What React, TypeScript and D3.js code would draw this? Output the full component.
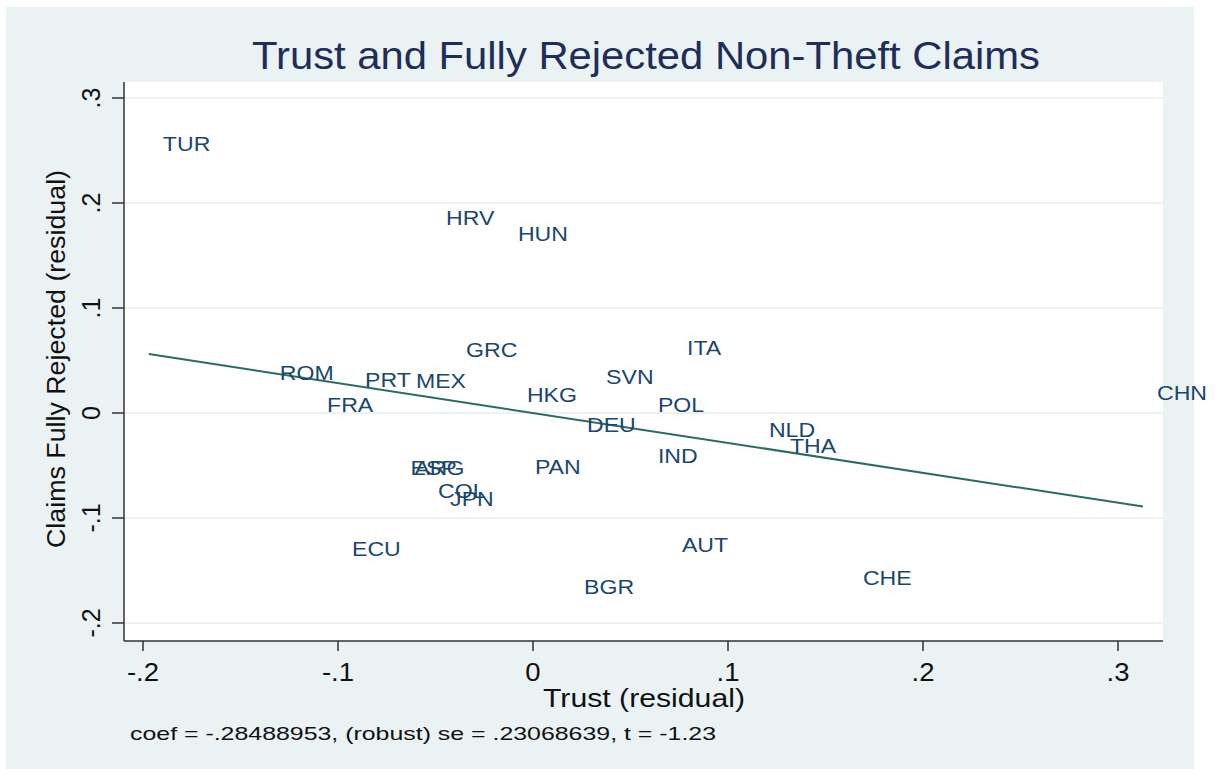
import React from 'react';
import * as d3 from 'd3';

const W = 1217;
const H = 769;

// country codes with their residuals (trust, claims fully rejected)
const countries = ['TUR', 'HRV', 'HUN', 'GRC', 'ITA', 'ROM', 'PRT', 'MEX', 'SVN', 'HKG', 'CHN', 'FRA', 'POL', 'DEU', 'NLD', 'THA', 'IND', 'ESP', 'ARG', 'PAN', 'COL', 'JPN', 'ECU', 'AUT', 'BGR', 'CHE'];
const trust = [-0.197, -0.0518, -0.0149, -0.0415, 0.0718, -0.137, -0.0933, -0.0672, 0.0303, -0.0103, 0.3128, -0.1128, 0.0569, 0.0205, 0.1138, 0.1246, 0.0569, -0.070, -0.068, -0.0062, -0.0559, -0.0497, -0.100, 0.0692, 0.019, 0.162];
const rejected = [0.257, 0.186, 0.171, 0.061, 0.062, 0.039, 0.032, 0.031, 0.035, 0.018, 0.020, 0.0086, 0.0086, -0.0105, -0.0152, -0.0305, -0.040, -0.0514, -0.0514, -0.0505, -0.0733, -0.081, -0.1286, -0.1248, -0.1648, -0.157];

const xTicks = [-0.2, -0.1, 0, 0.1, 0.2, 0.3];
const yTicks = [-0.2, -0.1, 0, 0.1, 0.2, 0.3];
const coef = -0.28488953;
const note = 'coef = -.28488953, (robust) se = .23068639, t = -1.23';

const fmt = (v: number) => (v === 0 ? '0' : String(v).replace('0.', '.'));

const plot = { left: 124, right: 1163, top: 82, bottom: 641 };
const font = '"Liberation Sans", Arial, sans-serif';
const bg = '#eaf2f3';
const sx = 1.1; // the original output is a little wider than tall

export default function App() {
  const x = d3.scaleLinear().domain([-0.2, 0.3]).range([143, 1118]);
  const y = d3.scaleLinear().domain([-0.2, 0.3]).range([623, 98]);

  const [xmin, xmax] = d3.extent(trust) as [number, number];
  const fit = d3.line<number>().x((d) => x(d)).y((d) => y(coef * d));

  return (
    <svg width={W} height={H} style={{ position: 'absolute', left: 0, top: 0 }} fontFamily={font}>
      <rect width={W} height={H} fill="#ffffff" />
      <rect x={6} y={7} width={1188} height={762} fill={bg} />
      <rect x={plot.left} y={plot.top} width={plot.right - plot.left} height={plot.bottom - plot.top} fill="#ffffff" />

      {yTicks.map((t) => (
        <line key={'g' + t} x1={plot.left} x2={plot.right} y1={y(t)} y2={y(t)} stroke={bg} strokeWidth={2} />
      ))}

      <path d={fit([xmin, xmax]) || ''} fill="none" stroke="#2a6b63" strokeWidth={2} />

      {countries.map((c, i) => (
        <text key={c} transform={`translate(${x(trust[i]) + 14},${y(rejected[i])}) scale(${sx},1)`} dy="0.36em" fontSize={21} fill="#1a476f">
          {c}
        </text>
      ))}

      {/* axes */}
      <line x1={plot.left} x2={plot.left} y1={plot.top} y2={plot.bottom} stroke="#333" strokeWidth={1.5} />
      <line x1={plot.left} x2={plot.right} y1={plot.bottom} y2={plot.bottom} stroke="#333" strokeWidth={1.5} />

      {xTicks.map((t) => (
        <g key={'x' + t}>
          <line x1={x(t)} x2={x(t)} y1={plot.bottom} y2={plot.bottom + 10} stroke="#333" strokeWidth={1.5} />
          <text transform={`translate(${x(t)},681) scale(${sx},1)`} textAnchor="middle" fontSize={25} fill="#111">
            {fmt(t)}
          </text>
        </g>
      ))}
      {yTicks.map((t) => (
        <g key={'y' + t}>
          <line x1={plot.left - 12} x2={plot.left} y1={y(t)} y2={y(t)} stroke="#333" strokeWidth={1.5} />
          <text transform={`translate(100,${y(t)}) rotate(-90)`} textAnchor="middle" fontSize={25} fill="#111">
            {fmt(t)}
          </text>
        </g>
      ))}

      <text x={644} y={707} textAnchor="middle" fontSize={26} fill="#111" textLength={202} lengthAdjust="spacingAndGlyphs">
        Trust (residual)
      </text>
      <text transform="translate(65,359) rotate(-90)" textAnchor="middle" fontSize={26} fill="#111" textLength={378} lengthAdjust="spacingAndGlyphs">
        Claims Fully Rejected (residual)
      </text>

      <text x={252} y={69} fontSize={38} fill="#1e2d5a" textLength={788} lengthAdjust="spacingAndGlyphs">
        Trust and Fully Rejected Non-Theft Claims
      </text>

      <text x={130} y={740} fontSize={19} fill="#111" textLength={586} lengthAdjust="spacingAndGlyphs">
        {note}
      </text>
    </svg>
  );
}
